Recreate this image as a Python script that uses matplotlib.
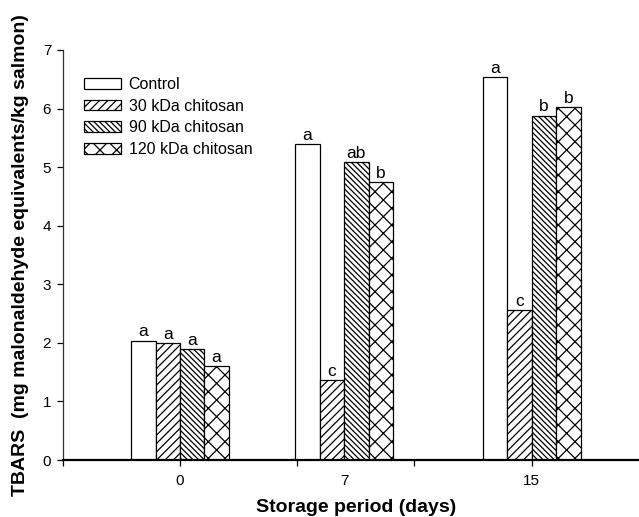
import matplotlib
matplotlib.use("Agg")
import matplotlib.pyplot as plt
import numpy as np

plt.rcParams['font.family'] = ['Liberation Sans', 'DejaVu Sans']
plt.rcParams['hatch.linewidth'] = 0.9

days = [0, 7, 15]
day_labels = ['0', '7', '15']
series_names = ['Control', '30 kDa chitosan', '90 kDa chitosan', '120 kDa chitosan']
control = [2.04, 5.40, 6.54]
kda30 = [2.00, 1.37, 2.56]
kda90 = [1.90, 5.08, 5.88]
kda120 = [1.60, 4.74, 6.03]
letters_control = ['a', 'a', 'a']
letters_30 = ['a', 'c', 'c']
letters_90 = ['a', 'ab', 'b']
letters_120 = ['a', 'b', 'b']

series = [control, kda30, kda90, kda120]
letters = [letters_control, letters_30, letters_90, letters_120]
hatches = ['', '////', '\\\\\\\\\\\\', 'xx']

fig = plt.figure(figsize=(6.39, 5.17), dpi=100)
W, H = 639.0, 517.0
ax = fig.add_axes([62.7 / W, 1 - 460 / H, (649 - 62.7) / W, (460 - 50) / H])

width = 1.04
offsets = np.array([-1.5, -0.5, 0.5, 1.5]) * width
x = np.array(days, dtype=float)
for vals, off, hat, name, lets in zip(series, offsets, hatches, series_names, letters):
    bars = ax.bar(x + off, vals, width=width, facecolor='white', edgecolor='black',
                  linewidth=0.9, hatch=hat, label=name, zorder=2)
    for b, v, l in zip(bars, vals, lets):
        ax.text(b.get_x() + b.get_width() / 2, v + 0.02, l, ha='center', va='bottom',
                fontsize=12.5, zorder=3)

ax.set_xlim(-5, 20)
ax.set_ylim(0, 7)
ax.set_yticks(range(0, 8))
ax.tick_params(axis='y', direction='out', length=4.3, width=0.9, labelsize=11, pad=4)
ax.xaxis.remove_overlapping_locs = False
ax.set_xticks([-5, 0, 5, 10, 15, 20])
ax.set_xticklabels([''] * 6)
ax.tick_params(axis='x', which='major', direction='out', length=4.3, width=0.9)
ax.set_xticks(days, minor=True)
ax.set_xticklabels(day_labels, minor=True)
ax.tick_params(axis='x', which='minor', length=0, labelsize=11, pad=10)

for s in ['top', 'right']:
    ax.spines[s].set_visible(False)
ax.spines['bottom'].set_linewidth(1.6)
ax.spines['left'].set_linewidth(0.9)
ax.spines['left'].set_color('#333333')

ax.set_xlabel('Storage period (days)', fontsize=14, fontweight='bold')
ax.xaxis.set_label_coords(0.5, -0.095)
ax.set_ylabel('TBARS  (mg malonaldehyde equivalents/kg salmon)', fontsize=14, fontweight='bold')
ax.yaxis.set_label_coords(-0.058, 0.5)

leg = ax.legend(loc='upper left', bbox_to_anchor=(84 / W, 1 - 77 / H),
                bbox_transform=fig.transFigure, frameon=False, fontsize=11.5,
                handlelength=2.3, handleheight=0.65, handletextpad=0.5,
                labelspacing=0.42, borderpad=0, borderaxespad=0)

fig.savefig('out.png', dpi=100)
